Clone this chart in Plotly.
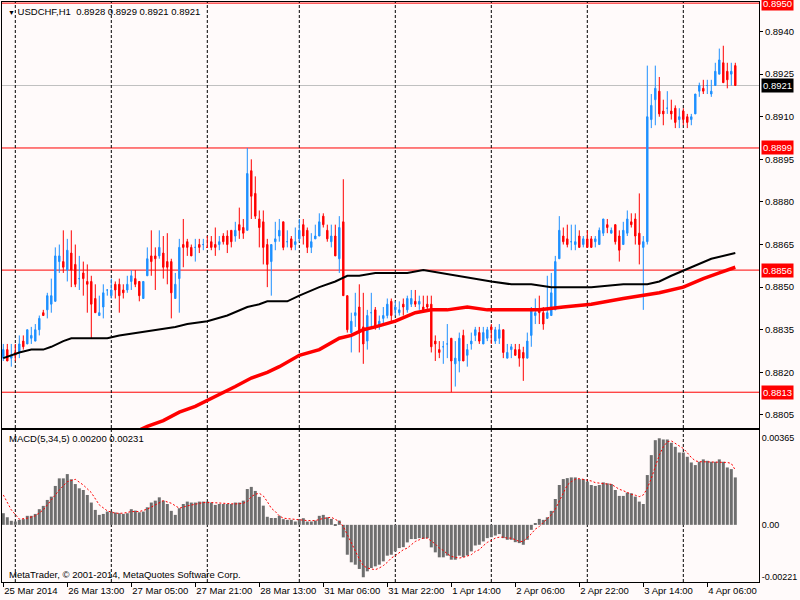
import plotly.graph_objects as go

# H1 bars: (date, first hour, number of bars)
sessions = [
    ("2014-03-25", 21, 3), ("2014-03-26", 0, 24), ("2014-03-27", 0, 24),
    ("2014-03-28", 0, 23), ("2014-03-31", 0, 24), ("2014-04-01", 0, 24),
    ("2014-04-02", 0, 24), ("2014-04-03", 0, 24), ("2014-04-04", 0, 14),
]
times = [f"{d} {h:02d}:00" for d, h0, n in sessions for h in range(h0, h0 + n)]

opens = [
    0.8825, 0.8828, 0.8825, 0.8827, 0.8827, 0.8831, 0.8830, 0.8832, 0.8831, 0.8835,
    0.8841, 0.8842, 0.8844, 0.8845, 0.8859, 0.8859, 0.8856, 0.8862, 0.8858, 0.8853,
    0.8855, 0.8852, 0.8852, 0.8846, 0.8840, 0.8843, 0.8849, 0.8847, 0.8851, 0.8851,
    0.8849, 0.8849, 0.8852, 0.8853, 0.8852, 0.8846, 0.8854, 0.8861, 0.8861, 0.8861,
    0.8862, 0.8859, 0.8859, 0.8846, 0.8853, 0.8865, 0.8866, 0.8864, 0.8864, 0.8865,
    0.8865, 0.8864, 0.8866, 0.8865, 0.8865, 0.8868, 0.8868, 0.8870, 0.8868, 0.8872,
    0.8871, 0.8870, 0.8891, 0.8883, 0.8874, 0.8873, 0.8865, 0.8859, 0.8866, 0.8868,
    0.8873, 0.8866, 0.8867, 0.8865, 0.8867, 0.8872, 0.8870, 0.8864, 0.8867, 0.8868,
    0.8875, 0.8870, 0.8866, 0.8868, 0.8860, 0.8873, 0.8847, 0.8834, 0.8840, 0.8843,
    0.8836, 0.8831, 0.8841, 0.8842, 0.8836, 0.8839, 0.8840, 0.8845, 0.8842, 0.8841,
    0.8844, 0.8842, 0.8844, 0.8845, 0.8844, 0.8843, 0.8844, 0.8844, 0.8831, 0.8828,
    0.8829, 0.8830, 0.8832, 0.8823, 0.8824, 0.8833, 0.8826, 0.8830, 0.8833, 0.8834,
    0.8830, 0.8832, 0.8836, 0.8831, 0.8832, 0.8835, 0.8825, 0.8828, 0.8828, 0.8828,
    0.8827, 0.8825, 0.8833, 0.8840, 0.8842, 0.8841, 0.8839, 0.8840, 0.8842, 0.8860,
    0.8868, 0.8867, 0.8866, 0.8865, 0.8868, 0.8865, 0.8867, 0.8867, 0.8866, 0.8865,
    0.8869, 0.8872, 0.8869, 0.8872, 0.8868, 0.8865, 0.8869, 0.8873, 0.8874, 0.8869,
    0.8864, 0.8866, 0.8909, 0.8916, 0.8919, 0.8912, 0.8913, 0.8912, 0.8913, 0.8909,
    0.8912, 0.8910, 0.8909, 0.8911, 0.8919, 0.8920, 0.8921, 0.8918, 0.8921, 0.8925,
    0.8929, 0.8926, 0.8925, 0.8928,
]
highs = [
    0.8830, 0.8830, 0.8830, 0.8830, 0.8833, 0.8833, 0.8835, 0.8836, 0.8837, 0.8840,
    0.8842, 0.8848, 0.8853, 0.8864, 0.8865, 0.8870, 0.8867, 0.8870, 0.8865, 0.8861,
    0.8859, 0.8858, 0.8854, 0.8851, 0.8847, 0.8851, 0.8849, 0.8853, 0.8852, 0.8853,
    0.8851, 0.8854, 0.8856, 0.8856, 0.8852, 0.8852, 0.8864, 0.8870, 0.8864, 0.8870,
    0.8868, 0.8869, 0.8860, 0.8855, 0.8867, 0.8874, 0.8867, 0.8865, 0.8867, 0.8867,
    0.8867, 0.8868, 0.8868, 0.8871, 0.8868, 0.8869, 0.8870, 0.8870, 0.8873, 0.8878,
    0.8874, 0.8899, 0.8895, 0.8889, 0.8877, 0.8877, 0.8867, 0.8865, 0.8873, 0.8874,
    0.8873, 0.8870, 0.8868, 0.8871, 0.8874, 0.8874, 0.8871, 0.8869, 0.8872, 0.8876,
    0.8876, 0.8872, 0.8872, 0.8872, 0.8875, 0.8888, 0.8847, 0.8841, 0.8848, 0.8851,
    0.8848, 0.8842, 0.8848, 0.8843, 0.8840, 0.8843, 0.8846, 0.8846, 0.8845, 0.8845,
    0.8846, 0.8847, 0.8849, 0.8849, 0.8847, 0.8847, 0.8847, 0.8847, 0.8833, 0.8831,
    0.8831, 0.8837, 0.8832, 0.8831, 0.8834, 0.8835, 0.8830, 0.8834, 0.8836, 0.8836,
    0.8836, 0.8836, 0.8837, 0.8836, 0.8837, 0.8835, 0.8830, 0.8830, 0.8830, 0.8830,
    0.8829, 0.8834, 0.8843, 0.8846, 0.8847, 0.8843, 0.8854, 0.8855, 0.8861, 0.8875,
    0.8871, 0.8872, 0.8872, 0.8872, 0.8870, 0.8868, 0.8870, 0.8868, 0.8868, 0.8871,
    0.8874, 0.8874, 0.8871, 0.8872, 0.8870, 0.8873, 0.8877, 0.8876, 0.8876, 0.8883,
    0.8868, 0.8928, 0.8918, 0.8928, 0.8924, 0.8916, 0.8919, 0.8916, 0.8914, 0.8913,
    0.8913, 0.8911, 0.8911, 0.8918, 0.8922, 0.8923, 0.8923, 0.8923, 0.8929, 0.8934,
    0.8935, 0.8929, 0.8929, 0.8929,
]
lows = [
    0.8824, 0.8824, 0.8822, 0.8824, 0.8825, 0.8828, 0.8830, 0.8830, 0.8831, 0.8833,
    0.8840, 0.8839, 0.8841, 0.8845, 0.8855, 0.8855, 0.8852, 0.8850, 0.8850, 0.8849,
    0.8847, 0.8841, 0.8832, 0.8841, 0.8840, 0.8839, 0.8847, 0.8846, 0.8846, 0.8841,
    0.8846, 0.8848, 0.8849, 0.8850, 0.8845, 0.8846, 0.8854, 0.8854, 0.8849, 0.8860,
    0.8853, 0.8851, 0.8839, 0.8846, 0.8841, 0.8857, 0.8861, 0.8861, 0.8859, 0.8862,
    0.8863, 0.8864, 0.8863, 0.8861, 0.8863, 0.8865, 0.8862, 0.8864, 0.8866, 0.8867,
    0.8867, 0.8870, 0.8874, 0.8874, 0.8864, 0.8858, 0.8850, 0.8847, 0.8863, 0.8866,
    0.8863, 0.8864, 0.8863, 0.8863, 0.8866, 0.8865, 0.8862, 0.8862, 0.8867, 0.8868,
    0.8871, 0.8866, 0.8864, 0.8861, 0.8855, 0.8847, 0.8834, 0.8827, 0.8836, 0.8827,
    0.8823, 0.8828, 0.8836, 0.8835, 0.8835, 0.8837, 0.8839, 0.8838, 0.8840, 0.8840,
    0.8840, 0.8841, 0.8843, 0.8843, 0.8842, 0.8841, 0.8842, 0.8827, 0.8824, 0.8825,
    0.8823, 0.8825, 0.8813, 0.8815, 0.8820, 0.8824, 0.8822, 0.8828, 0.8831, 0.8830,
    0.8830, 0.8831, 0.8830, 0.8830, 0.8830, 0.8825, 0.8825, 0.8825, 0.8826, 0.8822,
    0.8817, 0.8825, 0.8829, 0.8837, 0.8837, 0.8835, 0.8839, 0.8840, 0.8842, 0.8860,
    0.8865, 0.8864, 0.8863, 0.8863, 0.8864, 0.8864, 0.8864, 0.8864, 0.8864, 0.8865,
    0.8868, 0.8869, 0.8869, 0.8865, 0.8859, 0.8865, 0.8868, 0.8871, 0.8865, 0.8858,
    0.8842, 0.8865, 0.8906, 0.8907, 0.8910, 0.8907, 0.8911, 0.8909, 0.8906, 0.8906,
    0.8907, 0.8906, 0.8907, 0.8911, 0.8917, 0.8918, 0.8918, 0.8917, 0.8921, 0.8925,
    0.8922, 0.8920, 0.8921, 0.8921,
]
closes = [
    0.8828, 0.8824, 0.8826, 0.8826, 0.8830, 0.8829, 0.8835, 0.8833, 0.8835, 0.8839,
    0.8840, 0.8847, 0.8847, 0.8861, 0.8861, 0.8857, 0.8863, 0.8856, 0.8851, 0.8853,
    0.8853, 0.8851, 0.8844, 0.8841, 0.8841, 0.8848, 0.8849, 0.8849, 0.8849, 0.8847,
    0.8848, 0.8851, 0.8854, 0.8851, 0.8847, 0.8852, 0.8860, 0.8859, 0.8860, 0.8864,
    0.8857, 0.8857, 0.8848, 0.8851, 0.8864, 0.8864, 0.8864, 0.8861, 0.8864, 0.8864,
    0.8865, 0.8864, 0.8864, 0.8864, 0.8866, 0.8866, 0.8865, 0.8866, 0.8870, 0.8870,
    0.8869, 0.8890, 0.8882, 0.8875, 0.8871, 0.8864, 0.8858, 0.8865, 0.8867, 0.8870,
    0.8864, 0.8866, 0.8864, 0.8866, 0.8870, 0.8868, 0.8864, 0.8866, 0.8868, 0.8873,
    0.8872, 0.8867, 0.8868, 0.8861, 0.8871, 0.8847, 0.8835, 0.8838, 0.8841, 0.8834,
    0.8830, 0.8840, 0.8841, 0.8836, 0.8838, 0.8840, 0.8844, 0.8840, 0.8843, 0.8842,
    0.8843, 0.8846, 0.8846, 0.8844, 0.8845, 0.8842, 0.8843, 0.8829, 0.8830, 0.8827,
    0.8829, 0.8830, 0.8824, 0.8825, 0.8832, 0.8824, 0.8828, 0.8831, 0.8835, 0.8831,
    0.8834, 0.8835, 0.8835, 0.8835, 0.8835, 0.8827, 0.8827, 0.8829, 0.8826, 0.8825,
    0.8825, 0.8831, 0.8842, 0.8841, 0.8841, 0.8837, 0.8841, 0.8848, 0.8859, 0.8870,
    0.8866, 0.8865, 0.8866, 0.8866, 0.8864, 0.8867, 0.8864, 0.8864, 0.8867, 0.8870,
    0.8874, 0.8871, 0.8870, 0.8866, 0.8863, 0.8870, 0.8874, 0.8872, 0.8868, 0.8865,
    0.8866, 0.8910, 0.8914, 0.8920, 0.8911, 0.8911, 0.8913, 0.8911, 0.8908, 0.8910,
    0.8909, 0.8908, 0.8910, 0.8918, 0.8921, 0.8919, 0.8921, 0.8919, 0.8926, 0.8930,
    0.8922, 0.8923, 0.8926, 0.8921,
]

# moving averages, read at sample bars
ma_black_idx = [0, 4, 7, 10, 12, 15, 17, 21, 26, 29, 34, 39, 43, 46, 51, 56, 61, 64,
                66, 71, 74, 79, 83, 86, 89, 93, 97, 101, 105, 109, 114, 117, 122, 127,
                132, 137, 142, 147, 155, 161, 164, 167, 172, 177, 183]
ma_black_val = [0.8825, 0.8827, 0.8828, 0.8828, 0.8829, 0.8831, 0.8832, 0.8832, 0.8832,
                0.8833, 0.8834, 0.8835, 0.8836, 0.8837, 0.8838, 0.8840, 0.8843, 0.8844,
                0.8845, 0.8845, 0.8847, 0.8850, 0.8852, 0.8854, 0.8854, 0.8855, 0.8855,
                0.8855, 0.8856, 0.8855, 0.8854, 0.8853, 0.8852, 0.8851, 0.8851, 0.8850,
                0.8850, 0.8850, 0.8851, 0.8851, 0.8852, 0.8854, 0.8857, 0.8860, 0.8862]
ma_red_idx = [30, 36, 40, 44, 48, 51, 55, 58, 62, 66, 69, 74, 79, 84, 87, 90, 93, 98,
              103, 107, 111, 116, 121, 127, 134, 140, 147, 155, 160, 164, 170, 175,
              179, 183]
ma_red_val = [0.8797, 0.8801, 0.8803, 0.8806, 0.8808, 0.8810, 0.8813, 0.8815, 0.8818,
              0.8820, 0.8822, 0.8826, 0.8828, 0.8832, 0.8833, 0.8835, 0.8836, 0.8838,
              0.8841, 0.8842, 0.8842, 0.8843, 0.8842, 0.8842, 0.8842, 0.8843, 0.8844,
              0.8846, 0.8847, 0.8848, 0.8850, 0.8853, 0.8855, 0.8857]

macd_hist = [
    0.00049, 0.00032, 0.00017, 0.00014, 0.00021, 0.00024, 0.00038, 0.00038, 0.00046, 0.00066,
    0.00080, 0.00105, 0.00119, 0.00164, 0.00196, 0.00196, 0.00214, 0.00192, 0.00172, 0.00154,
    0.00147, 0.00126, 0.00094, 0.00063, 0.00042, 0.00046, 0.00056, 0.00056, 0.00052, 0.00049,
    0.00046, 0.00049, 0.00066, 0.00060, 0.00053, 0.00056, 0.00074, 0.00094, 0.00102, 0.00116,
    0.00102, 0.00088, 0.00059, 0.00042, 0.00070, 0.00088, 0.00098, 0.00094, 0.00094, 0.00098,
    0.00098, 0.00098, 0.00094, 0.00084, 0.00088, 0.00088, 0.00088, 0.00088, 0.00094, 0.00094,
    0.00102, 0.00151, 0.00160, 0.00143, 0.00118, 0.00081, 0.00034, 0.00029, 0.00029, 0.00038,
    0.00024, 0.00021, 0.00021, 0.00014, 0.00024, 0.00028, 0.00014, 0.00014, 0.00018, 0.00038,
    0.00042, 0.00032, 0.00025, -0.00003, 0.00018, -0.00053, -0.00126, -0.00158, -0.00168, -0.00186,
    -0.00221, -0.00196, -0.00182, -0.00175, -0.00168, -0.00154, -0.00130, -0.00126, -0.00112, -0.00098,
    -0.00094, -0.00074, -0.00060, -0.00060, -0.00056, -0.00059, -0.00056, -0.00095, -0.00116, -0.00137,
    -0.00137, -0.00130, -0.00147, -0.00147, -0.00130, -0.00136, -0.00129, -0.00112, -0.00087, -0.00084,
    -0.00070, -0.00056, -0.00052, -0.00045, -0.00039, -0.00056, -0.00063, -0.00063, -0.00073, -0.00077,
    -0.00084, -0.00063, -0.00021, 0.00004, 0.00025, 0.00021, 0.00032, 0.00059, 0.00109, 0.00168,
    0.00193, 0.00197, 0.00200, 0.00200, 0.00193, 0.00193, 0.00182, 0.00168, 0.00164, 0.00168,
    0.00179, 0.00175, 0.00172, 0.00147, 0.00122, 0.00122, 0.00136, 0.00133, 0.00119, 0.00098,
    0.00088, 0.00210, 0.00294, 0.00357, 0.00365, 0.00360, 0.00360, 0.00346, 0.00329, 0.00305,
    0.00305, 0.00287, 0.00263, 0.00252, 0.00266, 0.00276, 0.00270, 0.00266, 0.00266, 0.00276,
    0.00266, 0.00242, 0.00235, 0.00200,
]
signal_idx = [0, 2, 4, 6, 8, 10, 12, 14, 16, 18, 20, 22, 24, 26, 28, 30, 32, 34, 36, 38,
              40, 42, 44, 46, 48, 50, 52, 54, 56, 58, 60, 61, 62, 63, 64, 65, 66, 67, 68,
              69, 70, 72, 74, 76, 78, 80, 82, 84, 85, 86, 87, 88, 89, 90, 91, 92, 93, 94,
              95, 96, 97, 98, 99, 100, 101, 102, 103, 104, 105, 106, 107, 108, 109, 110,
              111, 112, 113, 114, 115, 116, 117, 118, 119, 120, 121, 122, 123, 124, 125,
              126, 127, 128, 129, 130, 131, 132, 133, 134, 135, 136, 137, 138, 139, 140,
              141, 142, 143, 144, 145, 146, 147, 148, 149, 150, 151, 152, 153, 154, 155,
              156, 157, 158, 159, 160, 161, 162, 163, 164, 165, 166, 167, 168, 169, 170,
              171, 172, 173, 174, 175, 176, 177, 178, 179, 180, 181, 182, 183]
signal_val = [
    0.00126, 0.00063, 0.00024, 0.00028, 0.00038, 0.00063, 0.00105, 0.00147, 0.00182, 0.00192,
    0.00168, 0.00136, 0.00084, 0.00059, 0.00049, 0.00049, 0.00056, 0.00056, 0.00066, 0.00084,
    0.00102, 0.00091, 0.00070, 0.00080, 0.00088, 0.00094, 0.00094, 0.00091, 0.00088, 0.00088,
    0.00091, 0.00098, 0.00119, 0.00129, 0.00133, 0.00122, 0.00098, 0.00070, 0.00056, 0.00038,
    0.00028, 0.00024, 0.00021, 0.00018, 0.00018, 0.00027, 0.00032, 0.00014, -0.00007, -0.00042,
    -0.00074, -0.00108, -0.00144, -0.00172, -0.00182, -0.00186, -0.00189, -0.00182, -0.00172, -0.00158,
    -0.00140, -0.00130, -0.00116, -0.00105, -0.00098, -0.00084, -0.00070, -0.00063, -0.00056, -0.00056,
    -0.00067, -0.00081, -0.00098, -0.00108, -0.00122, -0.00133, -0.00137, -0.00140, -0.00137, -0.00133,
    -0.00126, -0.00112, -0.00105, -0.00088, -0.00074, -0.00066, -0.00056, -0.00052, -0.00052, -0.00056,
    -0.00056, -0.00063, -0.00070, -0.00070, -0.00056, -0.00038, -0.00018, -0.00007, 0.00010, 0.00024,
    0.00042, 0.00066, 0.00098, 0.00133, 0.00168, 0.00182, 0.00192, 0.00195, 0.00192, 0.00189,
    0.00185, 0.00178, 0.00175, 0.00172, 0.00172, 0.00171, 0.00161, 0.00150, 0.00144, 0.00136,
    0.00129, 0.00125, 0.00119, 0.00126, 0.00154, 0.00196, 0.00245, 0.00294, 0.00329, 0.00350,
    0.00354, 0.00343, 0.00332, 0.00322, 0.00304, 0.00284, 0.00270, 0.00266, 0.00266, 0.00266,
    0.00266, 0.00266, 0.00266, 0.00266, 0.00263, 0.00259, 0.00231,
]

price_ticks = [0.8805, 0.8820, 0.8835, 0.8850, 0.8865, 0.8880, 0.8895, 0.8910, 0.8925, 0.8940]
level_lines = [0.8950, 0.8899, 0.8856, 0.8813]
last_price = 0.8921
macd_ticks = [0.00365, 0.0, -0.00221]
macd_tick_text = ["0.00365", "0.00", "-0.00221"]

time_ticks = ["2014-03-25 21:00", "2014-03-26 13:00", "2014-03-27 05:00", "2014-03-27 21:00",
              "2014-03-28 13:00", "2014-03-31 06:00", "2014-03-31 22:00", "2014-04-01 14:00",
              "2014-04-02 06:00", "2014-04-02 22:00", "2014-04-03 14:00", "2014-04-04 06:00"]
time_tick_text = ["25 Mar 2014", "26 Mar 13:00", "27 Mar 05:00", "27 Mar 21:00",
                  "28 Mar 13:00", "31 Mar 06:00", "31 Mar 22:00", "1 Apr 14:00",
                  "2 Apr 06:00", "2 Apr 22:00", "3 Apr 14:00", "4 Apr 06:00"]
day_starts = ["2014-03-26 00:00", "2014-03-27 00:00", "2014-03-28 00:00", "2014-03-31 00:00",
              "2014-04-01 00:00", "2014-04-02 00:00", "2014-04-03 00:00", "2014-04-04 00:00"]

BG = "#FFFAFA"
BULL = "#1E90FF"
BEAR = "#FF0000"
FONT = "Liberation Sans"
FS = 9.5

fig = go.Figure()

fig.add_trace(go.Candlestick(
    x=times, open=opens, high=highs, low=lows, close=closes,
    increasing=dict(line=dict(color=BULL, width=1), fillcolor=BULL),
    decreasing=dict(line=dict(color=BEAR, width=1), fillcolor=BEAR),
    whiskerwidth=0, hoverinfo="skip", xaxis="x", yaxis="y",
))
fig.add_trace(go.Scatter(
    x=[times[i] for i in ma_black_idx], y=ma_black_val, mode="lines",
    line=dict(color="black", width=2), hoverinfo="skip", xaxis="x", yaxis="y",
))
fig.add_trace(go.Scatter(
    x=[times[i] for i in ma_red_idx], y=ma_red_val, mode="lines",
    line=dict(color=BEAR, width=3.5), hoverinfo="skip", xaxis="x", yaxis="y",
))

# MACD pane
fig.add_trace(go.Bar(
    x=times, y=macd_hist, marker=dict(color="#6E6E6E", line=dict(width=0)),
    hoverinfo="skip", xaxis="x2", yaxis="y2",
))
fig.add_trace(go.Scatter(
    x=[times[i] for i in signal_idx], y=signal_val, mode="lines",
    line=dict(color=BEAR, width=1, dash="2px,2px"), hoverinfo="skip",
    xaxis="x2", yaxis="y2",
))

shapes = []
for lvl in level_lines:
    shapes.append(dict(type="line", xref="x domain", x0=0, x1=1, yref="y", y0=lvl, y1=lvl,
                       line=dict(color=BEAR, width=1), layer="below"))
shapes.append(dict(type="line", xref="x domain", x0=0, x1=1, yref="y", y0=last_price,
                   y1=last_price, line=dict(color="#C0C0C0", width=1), layer="below"))
for d in day_starts:
    for yr in ("y domain", "y2 domain"):
        shapes.append(dict(type="line", xref="x", x0=d, x1=d, yref=yr, y0=0, y1=1,
                           line=dict(color="black", width=1, dash="3px,2px"), layer="below"))

annotations = []
for lvl in level_lines:
    annotations.append(dict(xref="paper", x=1, xanchor="left", xshift=2, yref="y", y=lvl,
                            text=f"{lvl:.4f}", showarrow=False, bgcolor=BEAR, borderpad=1,
                            font=dict(family=FONT, size=FS, color="white")))
annotations.append(dict(xref="paper", x=1, xanchor="left", xshift=2, yref="y", y=last_price,
                        text=f"{last_price:.4f}", showarrow=False, bgcolor="black", borderpad=1,
                        font=dict(family=FONT, size=FS, color="white")))
annotations.append(dict(
    xref="paper", x=0, xanchor="left", xshift=4, yref="paper", y=1, yanchor="top", yshift=-2,
    text="<span style='font-size:7px'>▼</span> USDCHF,H1  0.8928 0.8929 0.8921 0.8921",
    showarrow=False, font=dict(family=FONT, size=FS, color="black")))
annotations.append(dict(
    xref="paper", x=0, xanchor="left", xshift=5, yref="y2 domain", y=1, yanchor="top",
    yshift=-1, text="MACD(5,34,5) 0.00200 0.00231", showarrow=False,
    font=dict(family=FONT, size=FS, color="black")))
annotations.append(dict(
    xref="paper", x=0, xanchor="left", xshift=5, yref="y2 domain", y=0, yanchor="bottom",
    yshift=0, text="MetaTrader, © 2001-2014, MetaQuotes Software Corp.", showarrow=False,
    font=dict(family=FONT, size=FS, color="black")))

x_range = [-0.325, 188.925]
axis_common = dict(showgrid=False, zeroline=False, showline=True, linecolor="black",
                   linewidth=1, mirror=True, automargin=False)

fig.update_layout(
    width=800, height=600,
    margin=dict(l=2, r=41, t=2, b=18),
    paper_bgcolor=BG, plot_bgcolor=BG,
    showlegend=False, boxgap=0.5, bargap=0.25,
    font=dict(family=FONT, size=FS, color="black"),
    xaxis=dict(type="category", categoryorder="array", categoryarray=times, range=x_range,
               domain=[0, 1], anchor="y", showticklabels=False, ticks="",
               rangeslider=dict(visible=False), **axis_common),
    yaxis=dict(domain=[0.2655, 1], range=[0.88004, 0.89504], side="right", anchor="x",
               tickvals=price_ticks, tickformat=".4f", ticks="outside", ticklen=3,
               tickcolor="black", tickfont=dict(family=FONT, size=FS, color="black"),
               **axis_common),
    xaxis2=dict(type="category", categoryorder="array", categoryarray=times, matches="x",
                domain=[0, 1], anchor="y2", tickvals=time_ticks, ticktext=time_tick_text,
                ticks="outside", ticklen=4, tickcolor="black", tickangle=0,
                ticklabelposition="outside right",
                tickfont=dict(family=FONT, size=FS, color="black"), **axis_common),
    yaxis2=dict(domain=[0, 0.2621], range=[-0.00241, 0.00400], side="right", anchor="x2",
                tickvals=macd_ticks, ticktext=macd_tick_text, ticks="",
                tickfont=dict(family=FONT, size=9, color="black"), **axis_common),
    shapes=shapes,
    annotations=annotations,
)

# page body has a default margin; drop it so the 800x600 figure fills the window
fig.write_html("out.html", config={"displayModeBar": False},
               post_script="document.body.style.margin='0';")
